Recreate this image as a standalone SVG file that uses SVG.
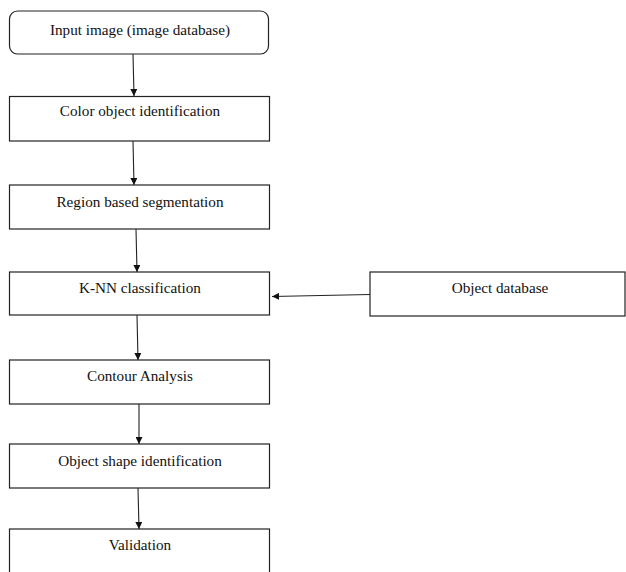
<svg xmlns="http://www.w3.org/2000/svg" width="626" height="572" viewBox="0 0 626 572">
<defs>
<style>
.box{fill:#fff;stroke:#222;stroke-width:1.2}
.lbl{font-family:"Liberation Serif","Times New Roman",serif;font-size:15.2px;fill:#111;text-anchor:middle}
.edge{stroke:#222;stroke-width:1.1;fill:none;marker-end:url(#ah)}
</style>
<marker id="ah" viewBox="0 0 10 10" refX="10" refY="5" markerWidth="7" markerHeight="7" markerUnits="userSpaceOnUse" orient="auto">
<path d="M0,0 L10,5 L0,10 z" fill="#111"/>
</marker>
</defs>
<rect width="626" height="572" fill="#fff"/>
<g id="connectors">
<line class="edge" x1="133" y1="54" x2="134" y2="96"/>
<line class="edge" x1="133" y1="141" x2="134" y2="185"/>
<line class="edge" x1="136" y1="229" x2="137" y2="272"/>
<line class="edge" x1="370" y1="294.5" x2="272" y2="296.5"/>
<line class="edge" x1="137" y1="315" x2="138" y2="360"/>
<line class="edge" x1="139" y1="404" x2="139" y2="444"/>
<line class="edge" x1="138" y1="488" x2="139" y2="529"/>
</g>
<g id="n1"><rect class="box" x="9.5" y="11" width="259" height="43" rx="8"/><text class="lbl" x="140" y="34.5">Input image (image database)</text></g>
<g id="n2"><rect class="box" x="9.5" y="96.5" width="260" height="44.5"/><text class="lbl" x="140" y="116">Color object identification</text></g>
<g id="n3"><rect class="box" x="9.5" y="185" width="260" height="44"/><text class="lbl" x="140" y="206.5">Region based segmentation</text></g>
<g id="n4"><rect class="box" x="9.5" y="272" width="260" height="43"/><text class="lbl" x="140" y="293">K-NN classification</text></g>
<g id="n5"><rect class="box" x="370" y="272" width="255" height="44"/><text class="lbl" x="500" y="293">Object database</text></g>
<g id="n6"><rect class="box" x="9.5" y="360" width="260" height="44"/><text class="lbl" x="140" y="381">Contour Analysis</text></g>
<g id="n7"><rect class="box" x="9.5" y="444" width="260" height="44"/><text class="lbl" x="140" y="466">Object shape identification</text></g>
<g id="n8"><rect class="box" x="9.5" y="529" width="260" height="60"/><text class="lbl" x="140" y="550">Validation</text></g>
</svg>
